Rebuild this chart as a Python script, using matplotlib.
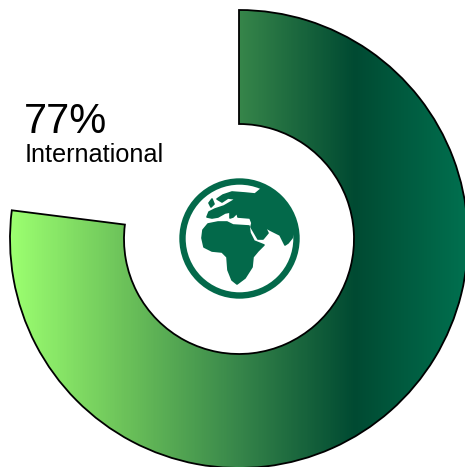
import numpy as np
import matplotlib
matplotlib.use('Agg')
import matplotlib.pyplot as plt
from matplotlib.colors import LinearSegmentedColormap
from matplotlib.patches import Wedge, Circle, Polygon

plt.rcParams['font.family'] = ['Liberation Sans', 'DejaVu Sans']

# value and label
share = 77
label = 'International'

# gradient stops, left to right across the ring
stop_pos = [0.0, 0.25, 0.50, 0.755, 1.0]
stop_col = ['#9cff70', '#6cc25a', '#37864a', '#004a32', '#00704f']

# globe icon outlines, in pixels
eurasia = [(217, 199), (223, 195), (232, 192), (245, 193), (255, 194), (261, 189), (275, 180), (300, 200),
           (294, 231), (292, 238), (288, 243), (285, 245), (280, 235), (270, 230), (265, 227), (268, 233),
           (263, 239), (258, 239), (251, 227), (252, 223), (250, 218), (238, 217), (237, 213),
           (233, 217), (230, 218), (230, 212), (225, 213), (218, 217), (212, 218), (207, 217), (209, 212),
           (215, 209), (224, 206), (236, 199), (228, 198), (222, 202)]
africa = [(202, 238), (203, 230), (208, 224), (218, 222), (227, 222), (233, 225), (249, 226), (250, 233),
          (254, 241), (264, 245), (258, 251), (253, 257), (252, 267), (245, 278), (237, 284), (232, 280),
          (228, 270), (227, 257), (222, 252), (212, 251), (204, 247)]
britain = [(209, 203), (212, 199), (214, 204), (211, 207)]

fig = plt.figure(figsize=(4.65, 4.67), dpi=100)
ax = fig.add_axes([0, 0, 1, 1])
ax.set_xlim(0, 465)
ax.set_ylim(467, 0)
ax.axis('off')

cx, cy = 239, 239
r_out, r_in = 229, 115
# y axis points down, so increasing angle runs clockwise on screen
start = -90
end = start + share / 100 * 360

cmap = LinearSegmentedColormap.from_list('ring', list(zip(stop_pos, stop_col)))
grad = np.linspace(0, 1, 456).reshape(1, -1)
img = ax.imshow(grad, cmap=cmap, extent=[10, 466, 467, 0], aspect='auto', zorder=1)

ring = Wedge((cx, cy), r_out, start, end, width=r_out - r_in, fc='none', ec='black', lw=1.3, zorder=2)
ax.add_patch(ring)
img.set_clip_path(ring)
ax.set_xlim(0, 465)
ax.set_ylim(467, 0)

# globe
green = '#03694a'
gx, gy = 239.5, 238.5
disc = Circle((gx, gy), 55, transform=ax.transData)
for shape in [eurasia, africa, britain]:
    p = Polygon(shape, closed=True, fc=green, ec=green, lw=1.2, joinstyle='round', zorder=3)
    ax.add_patch(p)
    p.set_clip_path(disc)
ax.add_patch(Circle((gx, gy), 57, fc='none', ec=green, lw=4.6, zorder=3))

ax.text(23.5, 133, f'{share}%', fontsize=30, color='black', ha='left', va='baseline', zorder=4)
ax.text(24.5, 162, label, fontsize=18.2, color='black', ha='left', va='baseline', zorder=4)

fig.savefig('out.png', dpi=100)
